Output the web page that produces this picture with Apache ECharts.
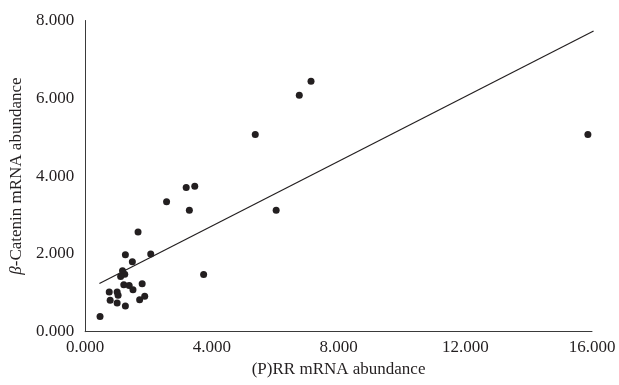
<!DOCTYPE html>
<html>
<head>
<meta charset="utf-8">
<script src="https://cdn.jsdelivr.net/npm/echarts@6/dist/echarts.min.js"></script>
<style>
html,body{margin:0;padding:0;background:#fff;}
#chart{width:619px;height:385px;}
</style>
</head>
<body>
<div id="chart"></div>
<script>
// (P)RR mRNA abundance (x) vs beta-Catenin mRNA abundance (y)
const prrValues = [7.13, 6.76, 5.37, 15.87, 3.19, 3.46, 2.57, 3.29, 6.03, 3.74,
  1.67, 1.27, 2.07, 1.49, 1.18, 1.25, 1.12, 1.22, 1.39, 1.51, 1.80,
  0.76, 1.01, 1.04, 0.79, 1.01, 1.27, 1.72, 1.88, 0.47];
const cateninValues = [6.44, 6.08, 5.07, 5.07, 3.71, 3.74, 3.34, 3.12, 3.12, 1.47,
  2.56, 1.98, 2.00, 1.80, 1.57, 1.48, 1.42, 1.21, 1.19, 1.08, 1.23,
  1.02, 1.02, 0.94, 0.81, 0.74, 0.66, 0.82, 0.91, 0.39];
// trendline endpoints
const trendX = [0.45, 16.05];
const trendY = [1.24, 7.73];
const xTicks = [0, 4, 8, 12, 16];
const yTicks = [0, 2, 4, 6, 8];

const points = prrValues.map((x, i) => [x, cateninValues[i]]);
const trend = trendX.map((x, i) => [x, trendY[i]]);

const chart = echarts.init(document.getElementById('chart'), null, {renderer: 'canvas'});
const font = 'Liberation Serif';
const fs = 17;
chart.setOption({
  animation: false,
  backgroundColor: '#ffffff',
  grid: {left: 84, right: 27, top: 20.5, bottom: 53.3, containLabel: false},
  xAxis: {
    type: 'value', min: xTicks[0], max: xTicks[xTicks.length - 1], interval: 4,
    splitLine: {show: false},
    axisTick: {show: false},
    axisLine: {show: true, onZero: false, lineStyle: {color: '#3a3a3a', width: 1}},
    axisLabel: {color: '#231f20', fontFamily: font, fontSize: fs, margin: 7,
      formatter: v => v.toFixed(3)},
    name: '(P)RR mRNA abundance', nameLocation: 'middle', nameGap: 28,
    nameTextStyle: {color: '#231f20', fontFamily: font, fontSize: fs}
  },
  yAxis: {
    type: 'value', min: yTicks[0], max: yTicks[yTicks.length - 1], interval: 2,
    splitLine: {show: false},
    axisTick: {show: false},
    axisLine: {show: true, onZero: false, lineStyle: {color: '#3a3a3a', width: 1}},
    axisLabel: {color: '#231f20', fontFamily: font, fontSize: fs, margin: 11,
      formatter: v => v.toFixed(3)},
    name: '{it|β}-Catenin mRNA abundance', nameLocation: 'middle', nameGap: 57,
    nameRotate: 90,
    nameTextStyle: {color: '#231f20', fontFamily: font, fontSize: fs,
      rich: {it: {fontStyle: 'italic', fontFamily: font, fontSize: fs, color: '#231f20'}}}
  },
  series: [
    {
      type: 'scatter', data: points, symbol: 'circle', symbolSize: 7,
      itemStyle: {color: '#231f20', opacity: 1}, z: 3
    },
    {
      type: 'line', data: trend, showSymbol: false, symbol: 'none', clip: false,
      lineStyle: {color: '#231f20', width: 1.2}, z: 2
    }
  ]
});
</script>
</body>
</html>
